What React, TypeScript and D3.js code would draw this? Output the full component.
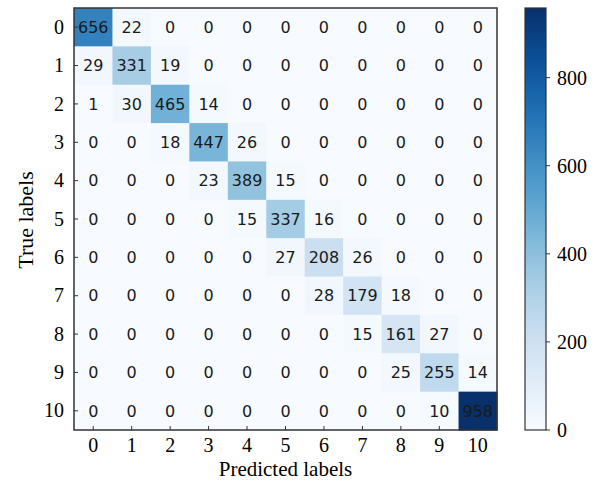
import React from "react";
import * as d3 from "d3";

const labels = ["0", "1", "2", "3", "4", "5", "6", "7", "8", "9", "10"];
const matrix: number[][] = [
  [656, 22, 0, 0, 0, 0, 0, 0, 0, 0, 0],
  [29, 331, 19, 0, 0, 0, 0, 0, 0, 0, 0],
  [1, 30, 465, 14, 0, 0, 0, 0, 0, 0, 0],
  [0, 0, 18, 447, 26, 0, 0, 0, 0, 0, 0],
  [0, 0, 0, 23, 389, 15, 0, 0, 0, 0, 0],
  [0, 0, 0, 0, 15, 337, 16, 0, 0, 0, 0],
  [0, 0, 0, 0, 0, 27, 208, 26, 0, 0, 0],
  [0, 0, 0, 0, 0, 0, 28, 179, 18, 0, 0],
  [0, 0, 0, 0, 0, 0, 0, 15, 161, 27, 0],
  [0, 0, 0, 0, 0, 0, 0, 0, 25, 255, 14],
  [0, 0, 0, 0, 0, 0, 0, 0, 0, 10, 958],
];
const colorbarTicks = [0, 200, 400, 600, 800];

const W = 603, H = 481;
const left = 74, top = 8, right = 497, bottom = 430;
const cbLeft = 525, cbRight = 546;

export default function App() {
  const vmax = d3.max(matrix.flat()) as number;
  const x = d3.scaleBand<string>().domain(labels).range([left, right]);
  const y = d3.scaleBand<string>().domain(labels).range([top, bottom]);
  const color = d3.scaleSequential(d3.interpolateBlues).domain([0, vmax]);
  const cy = d3.scaleLinear().domain([0, vmax]).range([bottom, top]);
  const serif = "'Liberation Serif', 'Times New Roman', serif";
  const stops = d3.range(0, 1.0001, 0.05);

  return (
    <svg width={W} height={H} style={{ position: "absolute", left: 0, top: 0 }}>
      <defs>
        <linearGradient id="cb" x1="0" y1="1" x2="0" y2="0">
          {stops.map((s) => (
            <stop key={s} offset={s} stopColor={color(s * vmax)} />
          ))}
        </linearGradient>
      </defs>
      {matrix.map((row, i) =>
        row.map((v, j) => (
          <g key={`${i}-${j}`}>
            <rect
              x={x(labels[j])}
              y={y(labels[i])}
              width={x.bandwidth() + 0.5}
              height={y.bandwidth() + 0.5}
              fill={color(v)}
            />
            <text
              x={(x(labels[j]) as number) + x.bandwidth() / 2}
              y={(y(labels[i]) as number) + y.bandwidth() / 2}
              dy="0.36em"
              textAnchor="middle"
              fontFamily="'DejaVu Sans', sans-serif"
              fontSize={16}
              fill="#1a1a1a"
            >
              {v}
            </text>
          </g>
        ))
      )}
      <rect x={left} y={top} width={right - left} height={bottom - top} fill="none" stroke="#333" strokeWidth={1.5} />
      {labels.map((l) => {
        const cx = (x(l) as number) + x.bandwidth() / 2;
        const yy = (y(l) as number) + y.bandwidth() / 2;
        return (
          <g key={l}>
            <line x1={cx} x2={cx} y1={bottom} y2={bottom - 4} stroke="#333" strokeWidth={1} />
            <text x={cx} y={452} textAnchor="middle" fontFamily={serif} fontSize={20} fill="#000">
              {l}
            </text>
            <line x1={left} x2={left + 4} y1={yy} y2={yy} stroke="#333" strokeWidth={1} />
            <text x={64} y={yy} dy="0.33em" textAnchor="end" fontFamily={serif} fontSize={20} fill="#000">
              {l}
            </text>
          </g>
        );
      })}
      <text x={(left + right) / 2} y={476} textAnchor="middle" fontFamily={serif} fontSize={21} fill="#000">
        Predicted labels
      </text>
      <text
        transform={`translate(33, ${(top + bottom) / 2 + 1}) rotate(-90)`}
        textAnchor="middle"
        fontFamily={serif}
        fontSize={22}
        fill="#000"
      >
        True labels
      </text>
      <rect x={cbLeft} y={top} width={cbRight - cbLeft} height={bottom - top} fill="url(#cb)" stroke="#333" strokeWidth={1.2} />
      {colorbarTicks.map((t) => (
        <g key={t}>
          <line x1={cbRight} x2={cbRight + 4} y1={cy(t)} y2={cy(t)} stroke="#333" strokeWidth={1} />
          <text x={557} y={cy(t)} dy="0.35em" fontFamily={serif} fontSize={20} fill="#000">
            {t}
          </text>
        </g>
      ))}
    </svg>
  );
}
